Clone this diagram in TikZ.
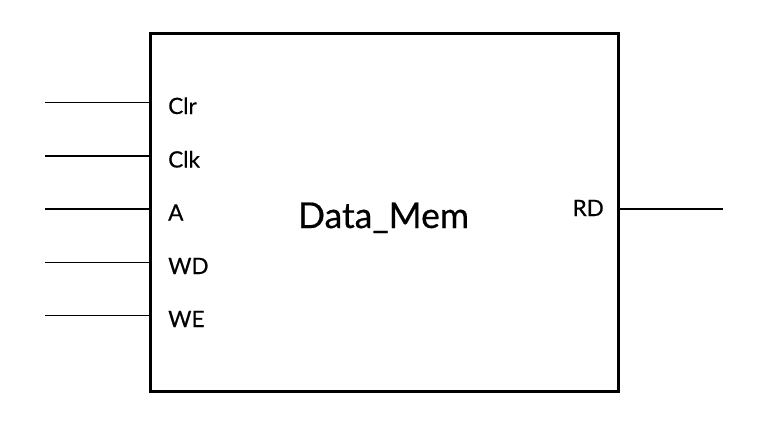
\documentclass[tikz,border=0pt]{standalone}
\usepackage{fontspec}
\setmainfont{Lato}
\newfontfamily\medlato[FakeBold=0.5]{Lato}
\begin{document}
\begin{tikzpicture}[x=1pt,y=-1pt,
  wire/.style={line width=1.6pt},
  pinlbl/.style={anchor=base west,inner sep=0pt,font=\medlato\fontsize{22.5}{25}\selectfont},
  blk/.style={draw,line width=3pt,minimum width=468pt,minimum height=357pt,inner sep=0pt}]
\useasboundingbox (0,0) rectangle (762,444);
\node[blk] (box) at (384,212.5) {};
\node[anchor=base,inner sep=0pt,font=\medlato\fontsize{35.5}{40}\selectfont] (title) at (383.5,228) {Data\_Mem};
\foreach \n/\t/\y in {clr/Clr/102.5, clk/Clk/156, a/A/209, wd/WD/262.5, we/WE/315.5}{
  \coordinate (\n in) at (45,\y);
  \coordinate (\n pin) at (box.west |- 0,\y);
  \draw[wire] (\n in) -- (\n pin);
  \node[pinlbl] (\n lbl) at (168,\y+11.5) {\t};
}
\coordinate (rd pin) at (box.east |- 0,209);
\coordinate (rd out) at (723,209);
\draw[wire] (rd pin) -- (rd out);
\node[pinlbl,anchor=base east] (rd lbl) at (604,216) {RD};
\end{tikzpicture}
\end{document}
